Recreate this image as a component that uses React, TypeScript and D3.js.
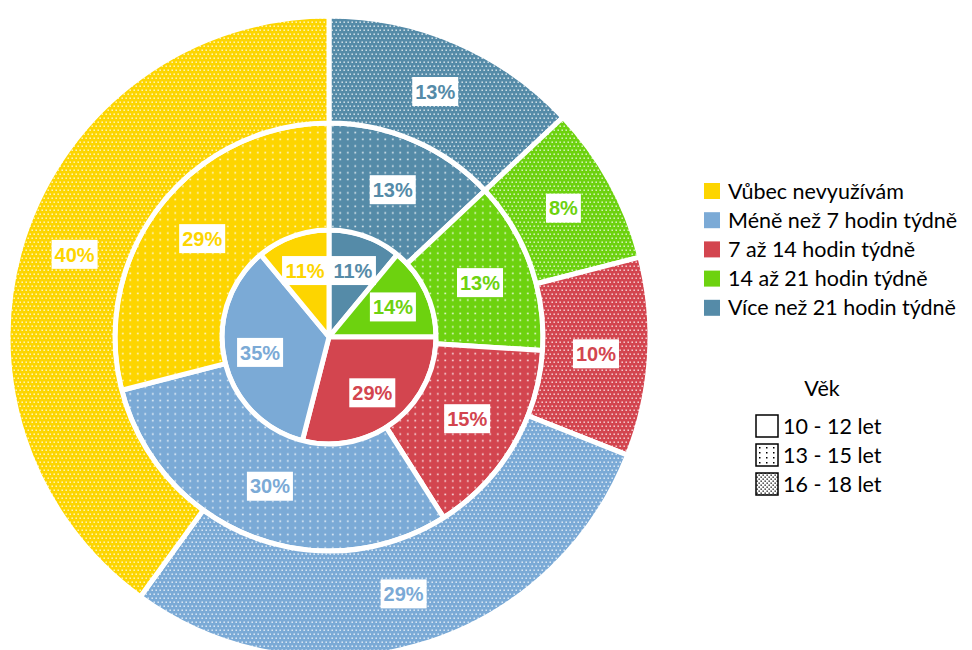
import React from 'react';
import {arc, pie, PieArcDatum} from 'd3';

// kategorie (legenda)
const categories = [
    'Vůbec nevyužívám',
    'Méně než 7 hodin týdně',
    '7 až 14 hodin týdně',
    '14 až 21 hodin týdně',
    'Více než 21 hodin týdně',
];
const ageGroups = ['10 - 12 let', '13 - 15 let', '16 - 18 let'];
const ageTitle = 'Věk';

// procenta podle věku, ve stejném pořadí jako categories
const age10to12 = [11, 35, 29, 14, 11];
const age13to15 = [29, 30, 15, 13, 13];
const age16to18 = [40, 29, 10, 8, 13];

const colors = ['#FDD500', '#7BAAD6', '#D3454F', '#6DD20F', '#558BA8'];

// po směru hodin od vrcholu: Více, 14-21, 7-14, Méně, Vůbec
const drawOrder = [4, 3, 2, 1, 0];

const W = 972, H = 650;
const cx = 329, cy = 337;
const rIn = 107, rMid = 214, rOut = 321;

type Slice = {idx: number; value: number};

const makePie = pie<Slice>().value(d => d.value).sort(null);

const rings = [
    {values: age10to12, inner: 0, outer: rIn, pattern: ''},
    {values: age13to15, inner: rIn, outer: rMid, pattern: 'mid'},
    {values: age16to18, inner: rMid, outer: rOut, pattern: 'out'},
];

const labelFont = "'Liberation Sans', Arial, sans-serif";
const legendFont = "Lato, 'Open Sans', sans-serif";
const labelSize = 20;

// hrubý odhad šířky tučného Arialu
const textWidth = (s: string) =>
    s.split('').reduce((w, ch) => w + (ch === '%' ? 0.889 : 0.556), 0) * labelSize;

const App = (): JSX.Element => {
    return (
        <svg width={W} height={H} viewBox={`0 0 ${W} ${H}`}
             style={{position: 'absolute', left: 0, top: 0, background: '#fff'}}>
            <defs>
                {colors.map((c, i) => (
                    <React.Fragment key={i}>
                        <pattern id={`mid-${i}`} width={7.5} height={6.7} patternUnits="userSpaceOnUse">
                            <rect width={7.5} height={6.7} fill={c}/>
                            <rect x={3} y={2.5} width={1.6} height={1.6} fill="#fff" opacity={0.85}/>
                        </pattern>
                        <pattern id={`out-${i}`} width={4} height={8} patternUnits="userSpaceOnUse">
                            <rect width={4} height={8} fill={c}/>
                            <rect x={0.5} y={0.5} width={1.4} height={1.4} fill="#fff" opacity={0.85}/>
                            <rect x={2.5} y={4.5} width={1.4} height={1.4} fill="#fff" opacity={0.85}/>
                        </pattern>
                    </React.Fragment>
                ))}
                <pattern id="mid-k" width={7} height={5} patternUnits="userSpaceOnUse">
                    <rect width={7} height={5} fill="#fff"/>
                    <rect x={3} y={2} width={1.5} height={1.5} fill="#000"/>
                </pattern>
                <pattern id="out-k" width={4} height={4} patternUnits="userSpaceOnUse">
                    <rect width={4} height={4} fill="#fff"/>
                    <rect x={0.5} y={0.5} width={1.3} height={1.3} fill="#000"/>
                    <rect x={2.5} y={2.5} width={1.3} height={1.3} fill="#000"/>
                </pattern>
            </defs>

            <g transform={`translate(${cx},${cy})`}>
                {rings.map((ring, ri) => {
                    const slices = makePie(drawOrder.map(i => ({idx: i, value: ring.values[i]})));
                    const shape = arc<PieArcDatum<Slice>>().innerRadius(ring.inner).outerRadius(ring.outer);
                    return (
                        <g key={ri}>
                            {slices.map(s => (
                                <path key={s.data.idx} d={shape(s) || ''}
                                      fill={ring.pattern ? `url(#${ring.pattern}-${s.data.idx})` : colors[s.data.idx]}
                                      stroke="#fff" strokeWidth={5} strokeLinejoin="round"/>
                            ))}
                        </g>
                    );
                })}
                {rings.map((ring, ri) => {
                    const slices = makePie(drawOrder.map(i => ({idx: i, value: ring.values[i]})));
                    const lr = ring.inner === 0 ? ring.outer * 0.66 : (ring.inner + ring.outer) / 2;
                    const labelArc = arc<PieArcDatum<Slice>>().innerRadius(lr).outerRadius(lr);
                    return (
                        <g key={'l' + ri}>
                            {slices.map(s => {
                                const [x, y] = labelArc.centroid(s);
                                const txt = `${s.data.value}%`;
                                const bw = textWidth(txt) + 6;
                                return (
                                    <g key={s.data.idx} transform={`translate(${x},${y})`}>
                                        <rect x={-bw / 2} y={-14.5} width={bw} height={29} fill="#fff"/>
                                        <text textAnchor="middle" dy="0.36em" fontFamily={labelFont}
                                              fontWeight="bold" fontSize={labelSize} fill={colors[s.data.idx]}>
                                            {txt}
                                        </text>
                                    </g>
                                );
                            })}
                        </g>
                    );
                })}
            </g>

            <g transform="translate(704,191)">
                {categories.map((c, i) => (
                    <g key={c} transform={`translate(0,${i * 29.2})`}>
                        <rect x={0} y={-8} width={16} height={16} fill={colors[i]}/>
                        <text x={24} dy="0.35em" fontFamily={legendFont} fontSize={21.5} fill="#000">{c}</text>
                    </g>
                ))}
            </g>

            <text x={822} y={388} dy="0.35em" textAnchor="middle" fontFamily={legendFont}
                  fontSize={21.5} fill="#000">{ageTitle}</text>
            <g transform="translate(756,426)">
                {ageGroups.map((a, i) => (
                    <g key={a} transform={`translate(0,${i * 29})`}>
                        <rect x={0} y={-11} width={22} height={22} strokeWidth={1.5} stroke="#000"
                              fill={i === 0 ? '#fff' : i === 1 ? 'url(#mid-k)' : 'url(#out-k)'}/>
                        <text x={27} dy="0.35em" fontFamily={legendFont} fontSize={21.5} fill="#000">{a}</text>
                    </g>
                ))}
            </g>
        </svg>
    );
};

export default App;
